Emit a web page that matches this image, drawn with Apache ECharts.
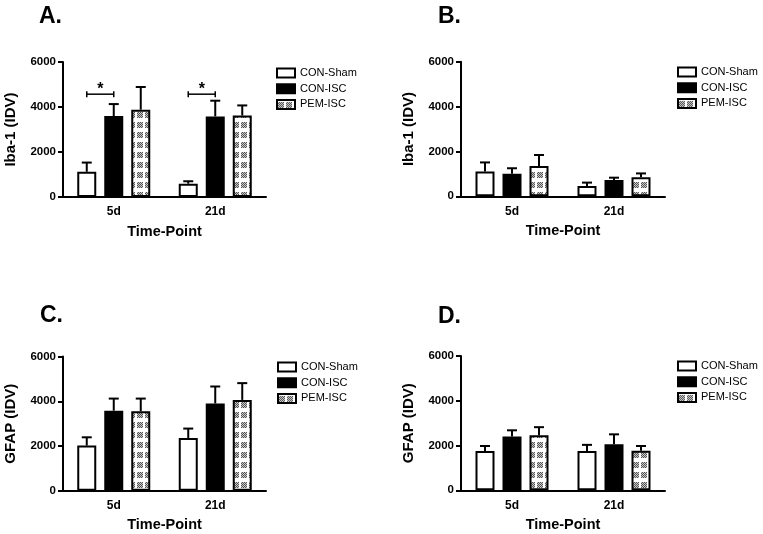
<!DOCTYPE html>
<html>
<head>
<meta charset="utf-8">
<script src="https://cdn.jsdelivr.net/npm/echarts@6/dist/echarts.min.js"></script>
<style>
html,body{margin:0;padding:0;background:#fff;}
#chart{width:763px;height:534px;}
</style>
</head>
<body>
<div id="chart"></div>
<script>
// ---------- DATA ----------
const categories = ['5d', '21d'];
const seriesNames = ['CON-Sham', 'CON-ISC', 'PEM-ISC'];
const yTicks = [0, 2000, 4000, 6000];
const panelLetters = ['A.', 'B.', 'C.', 'D.'];
const yTitles = ['Iba-1 (IDV)', 'Iba-1 (IDV)', 'GFAP (IDV)', 'GFAP (IDV)'];
const xTitle = 'Time-Point';

// Panel A (Iba-1)
const A_sham = [1120, 590];   const A_shamErr = [410, 110];
const A_isc  = [3600, 3580];  const A_iscErr  = [530, 700];
const A_pem  = [3880, 3620];  const A_pemErr  = [1010, 450];
// Panel B (Iba-1)
const B_sham = [1100, 460];   const B_shamErr = [410, 150];
const B_isc  = [1000, 730];   const B_iscErr  = [250, 100];
const B_pem  = [1350, 850];   const B_pemErr  = [490, 170];
// Panel C (GFAP)
const C_sham = [2020, 2360];  const C_shamErr = [370, 420];
const C_isc  = [3580, 3900];  const C_iscErr  = [540, 760];
const C_pem  = [3550, 4060];  const C_pemErr  = [570, 750];
// Panel D (GFAP)
const D_sham = [1760, 1760];  const D_shamErr = [220, 270];
const D_isc  = [2400, 2060];  const D_iscErr  = [280, 440];
const D_pem  = [2460, 1770];  const D_pemErr  = [360, 210];

// significance brackets (panel A): category index, level
const A_sigCats = [0, 1];
const A_sigLevel = [4570, 4570];
const A_sigLabel = ['*', '*'];

// ---------- STYLE / LAYOUT ----------
const FONT = 'Liberation Sans, Arial, sans-serif';
const BAR_W = 19, BAR_GAP_PX = 8, STEP = BAR_W + BAR_GAP_PX, CAP = 5;
const grids = [
  {left: 63,  top: 62,    width: 203, height: 135},
  {left: 461, top: 61.7,  width: 204, height: 134.6},
  {left: 63,  top: 356.5, width: 203, height: 134.3},
  {left: 461, top: 356,   width: 204, height: 134.3}
];
const legendPos = [
  {left: 276, top: 67},
  {left: 677, top: 66},
  {left: 277, top: 361},
  {left: 677, top: 360}
];
const letterPos = [[39, 17], [438, 17], [40, 315.5], [438, 317]];

function makeHatch() {
  const c = document.createElement('canvas');
  c.width = 8; c.height = 10;
  const g = c.getContext('2d');
  g.fillStyle = '#fff'; g.fillRect(0, 0, 8, 10);
  for (let y = 2; y < 8; y++) {
    for (let x = 1; x < 7; x++) {
      g.fillStyle = ((x + y) % 2 === 0) ? '#555' : '#c8c8c8';
      g.fillRect(x, y, 1, 1);
    }
  }
  return c;
}
const hatch = {image: makeHatch(), repeat: 'repeat'};

const panels = [
  {means: [A_sham, A_isc, A_pem], errs: [A_shamErr, A_iscErr, A_pemErr]},
  {means: [B_sham, B_isc, B_pem], errs: [B_shamErr, B_iscErr, B_pemErr]},
  {means: [C_sham, C_isc, C_pem], errs: [C_shamErr, C_iscErr, C_pemErr]},
  {means: [D_sham, D_isc, D_pem], errs: [D_shamErr, D_iscErr, D_pemErr]}
];
const fills = ['#fff', '#000', hatch];

const option = {
  animation: false,
  backgroundColor: '#fff',
  textStyle: {fontFamily: FONT},
  grid: grids,
  xAxis: grids.map((g, i) => ({
    type: 'category', gridIndex: i, data: categories,
    axisLine: {lineStyle: {color: '#000', width: 2}},
    axisTick: {alignWithLabel: true, length: 4, lineStyle: {color: '#000', width: 2}},
    axisLabel: {color: '#000', fontWeight: 'bold', fontSize: 12, margin: 9, fontFamily: FONT},
    name: xTitle, nameLocation: 'middle', nameGap: 27,
    nameTextStyle: {color: '#000', fontWeight: 'bold', fontSize: 14.5, fontFamily: FONT}
  })),
  yAxis: grids.map((g, i) => ({
    type: 'value', gridIndex: i, min: yTicks[0], max: yTicks[yTicks.length - 1], interval: yTicks[1] - yTicks[0],
    splitLine: {show: false},
    axisLine: {show: true, lineStyle: {color: '#000', width: 2}},
    axisTick: {show: true, length: 5, lineStyle: {color: '#000', width: 2}},
    axisLabel: {color: '#000', fontWeight: 'bold', fontSize: 11.5, margin: 7, fontFamily: FONT,
                formatter: v => String(v)},
    name: yTitles[i], nameLocation: 'middle', nameGap: 45,
    nameTextStyle: {color: '#000', fontWeight: 'bold', fontSize: 15, fontFamily: FONT}
  })),
  legend: legendPos.map(p => ({
    left: p.left, top: p.top, orient: 'vertical', padding: 0,
    data: seriesNames, icon: 'rect', itemWidth: 18, itemHeight: 9, itemGap: 3.7,
    selectedMode: false,
    textStyle: {color: '#000', fontSize: 11, lineHeight: 12, fontFamily: FONT}
  })),
  graphic: panelLetters.map((t, i) => ({
    type: 'text', x: letterPos[i][0], y: letterPos[i][1],
    style: {text: t, fontSize: 23, fontWeight: 'bold', fill: '#000', fontFamily: FONT,
            verticalAlign: 'middle', align: 'left'}
  })),
  series: []
};

panels.forEach((p, pi) => {
  p.means.forEach((m, si) => {
    option.series.push({
      type: 'bar', name: seriesNames[si], xAxisIndex: pi, yAxisIndex: pi,
      data: m, barWidth: BAR_W, barGap: (BAR_GAP_PX / BAR_W * 100) + '%',
      itemStyle: {color: fills[si], borderColor: '#000', borderWidth: 2},
      emphasis: {disabled: true}, z: 2
    });
  });
  p.means.forEach((m, si) => {
    const off = (si - 1) * STEP;
    option.series.push({
      type: 'custom', name: 'err' + pi + si, xAxisIndex: pi, yAxisIndex: pi,
      data: m.map((v, ci) => [ci, v, v + p.errs[si][ci]]),
      encode: {x: 0, y: [1, 2]}, z: 3, silent: true,
      renderItem: function (params, api) {
        const b = api.coord([api.value(0), api.value(1)]);
        const u = api.coord([api.value(0), api.value(2)]);
        const x = b[0] + off;
        const st = {stroke: '#000', lineWidth: 2};
        return {type: 'group', children: [
          {type: 'line', shape: {x1: x, y1: b[1], x2: x, y2: u[1]}, style: st},
          {type: 'line', shape: {x1: x - CAP, y1: u[1], x2: x + CAP, y2: u[1]}, style: st}
        ]};
      }
    });
  });
});

// significance brackets for panel A
option.series.push({
  type: 'custom', name: 'sigA', xAxisIndex: 0, yAxisIndex: 0, silent: true, z: 4,
  data: A_sigCats.map((c, i) => [c, A_sigLevel[i]]),
  renderItem: function (params, api) {
    const p = api.coord([api.value(0), api.value(1)]);
    const x0 = p[0] - STEP, x1 = p[0], y = p[1];
    const st = {stroke: '#000', lineWidth: 1.5};
    return {type: 'group', children: [
      {type: 'line', shape: {x1: x0, y1: y, x2: x1, y2: y}, style: st},
      {type: 'line', shape: {x1: x0, y1: y - 3, x2: x0, y2: y + 3}, style: st},
      {type: 'line', shape: {x1: x1, y1: y - 3, x2: x1, y2: y + 3}, style: st},
      {type: 'text', x: (x0 + x1) / 2, y: y - 5,
       style: {text: A_sigLabel[params.dataIndex], fontSize: 16, fontWeight: 'bold', fill: '#000',
               align: 'center', verticalAlign: 'middle', fontFamily: FONT}}
    ]};
  }
});

const chart = echarts.init(document.getElementById('chart'), null, {renderer: 'canvas'});
chart.setOption(option);
</script>
</body>
</html>
